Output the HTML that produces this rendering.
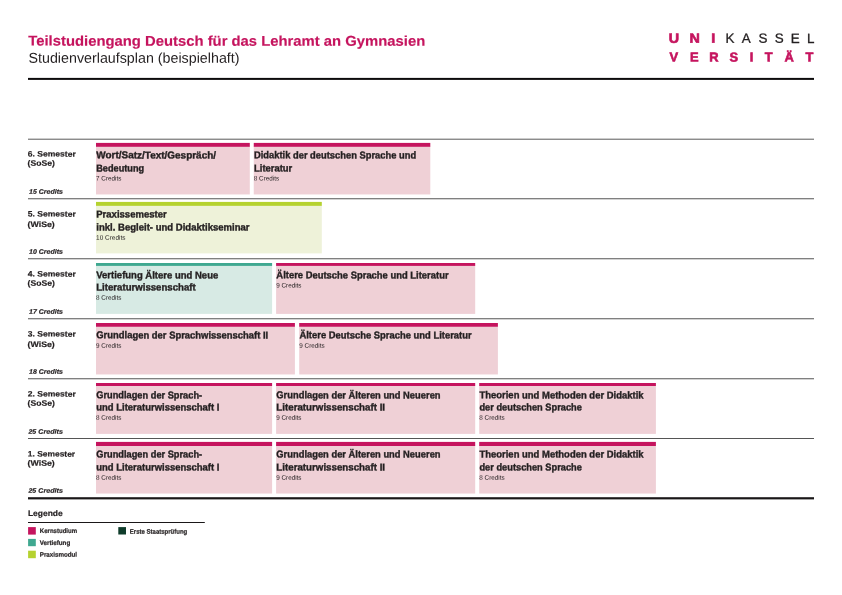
<!DOCTYPE html>
<html lang="de">
<head>
<meta charset="utf-8">
<title>Studienverlaufsplan</title>
<style>
html,body{margin:0;padding:0;background:#fff;}
body{width:842px;height:595px;overflow:hidden;}
svg{display:block;}
text{font-family:"Liberation Sans",sans-serif;text-rendering:geometricPrecision;}
.b{font-weight:bold;}
.bi{font-weight:bold;font-style:italic;}
</style>
</head>
<body>
<svg width="842" height="595" viewBox="0 0 842 595" fill="#231f20">
<text transform="translate(28.30,45.60) skewY(0.04)" font-size="14.2" class="b" fill="#c5145e" stroke="#c5145e" stroke-width="0.15" textLength="396.9" lengthAdjust="spacingAndGlyphs">Teilstudiengang Deutsch für das Lehramt an Gymnasien</text>
<text transform="translate(28.50,62.65) skewY(0.04)" font-size="14.3" textLength="211.0" lengthAdjust="spacingAndGlyphs">Studienverlaufsplan (beispielhaft)</text>
<rect x="28.00" y="77.90" width="786.00" height="2.00" fill="#0d0b0c"/>
<text transform="translate(0,42.33) skewY(0.04) scale(1.07,1)" x="629.95 649.16 666.64" y="0" text-anchor="middle" font-size="13.4" class="b" fill="#c5145e" stroke="#c5145e" stroke-width="0.6">UNI</text>
<text transform="translate(0,42.33) skewY(0.04) scale(1.0,1)" x="729.86 746.25 763.00 779.15 795.25 810.75" y="0" text-anchor="middle" font-size="13.4" fill="#231f20" stroke="#231f20" stroke-width="0.3">KASSEL</text>
<text transform="translate(0,60.98) skewY(0.04) scale(1.0,1)" x="673.90 694.30 713.96 733.90 751.50 768.70 789.20 809.50" y="0" text-anchor="middle" font-size="12.9" class="b" fill="#c5145e" stroke="#c5145e" stroke-width="0.6">VERSITÄT</text>
<rect x="28.00" y="138.60" width="786.00" height="1.30" fill="#808080"/>
<rect x="28.00" y="198.00" width="786.00" height="1.35" fill="#808080"/>
<rect x="28.00" y="258.00" width="786.00" height="1.35" fill="#808080"/>
<rect x="28.00" y="318.00" width="786.00" height="1.35" fill="#808080"/>
<rect x="28.00" y="378.00" width="786.00" height="1.35" fill="#808080"/>
<rect x="28.00" y="438.00" width="786.00" height="1.00" fill="#555"/>
<rect x="28.00" y="497.20" width="786.00" height="2.20" fill="#1a1718"/>
<text transform="translate(27.80,156.60) skewY(0.04)" font-size="7.9" class="b" stroke="#231f20" stroke-width="0.18" textLength="48.0" lengthAdjust="spacingAndGlyphs">6. Semester</text>
<text transform="translate(27.60,165.85) skewY(0.04)" font-size="7.9" class="b" stroke="#231f20" stroke-width="0.18" textLength="27.2" lengthAdjust="spacingAndGlyphs">(SoSe)</text>
<text transform="translate(29.00,193.65) skewY(0.04)" font-size="6.5" class="bi" stroke="#231f20" stroke-width="0.2" textLength="33.9" lengthAdjust="spacingAndGlyphs">15 Credits</text>
<rect x="96.00" y="146.30" width="153.80" height="48.15" fill="#efd0d6"/>
<rect x="96.00" y="142.90" width="153.80" height="3.90" fill="#c5145e"/>
<text transform="translate(96.25,158.35) skewY(0.04)" font-size="10.0" class="b" stroke="#231f20" stroke-width="0.38" textLength="119.8" lengthAdjust="spacingAndGlyphs">Wort/Satz/Text/Gespräch/</text>
<text transform="translate(96.25,171.45) skewY(0.04)" font-size="10.0" class="b" stroke="#231f20" stroke-width="0.38" textLength="47.9" lengthAdjust="spacingAndGlyphs">Bedeutung</text>
<text transform="translate(96.10,180.50) skewY(0.04)" font-size="6.6" textLength="25.3" lengthAdjust="spacingAndGlyphs">7 Credits</text>
<rect x="253.75" y="146.30" width="176.55" height="48.15" fill="#efd0d6"/>
<rect x="253.75" y="142.90" width="176.55" height="3.90" fill="#c5145e"/>
<text transform="translate(254.00,158.35) skewY(0.04)" font-size="10.0" class="b" stroke="#231f20" stroke-width="0.38" textLength="162.1" lengthAdjust="spacingAndGlyphs">Didaktik der deutschen Sprache und</text>
<text transform="translate(254.00,171.45) skewY(0.04)" font-size="10.0" class="b" stroke="#231f20" stroke-width="0.38" textLength="38.3" lengthAdjust="spacingAndGlyphs">Literatur</text>
<text transform="translate(253.85,180.50) skewY(0.04)" font-size="6.6" textLength="25.3" lengthAdjust="spacingAndGlyphs">8 Credits</text>
<text transform="translate(27.80,216.60) skewY(0.04)" font-size="7.9" class="b" stroke="#231f20" stroke-width="0.18" textLength="48.0" lengthAdjust="spacingAndGlyphs">5. Semester</text>
<text transform="translate(27.60,226.95) skewY(0.04)" font-size="7.9" class="b" stroke="#231f20" stroke-width="0.18" textLength="27.2" lengthAdjust="spacingAndGlyphs">(WiSe)</text>
<text transform="translate(29.00,253.65) skewY(0.04)" font-size="6.5" class="bi" stroke="#231f20" stroke-width="0.2" textLength="33.9" lengthAdjust="spacingAndGlyphs">10 Credits</text>
<rect x="96.00" y="205.35" width="225.80" height="48.05" fill="#eef2d9"/>
<rect x="96.00" y="201.90" width="225.80" height="3.95" fill="#b5d22f"/>
<text transform="translate(96.25,217.50) skewY(0.04)" font-size="10.0" class="b" stroke="#231f20" stroke-width="0.38" textLength="70.5" lengthAdjust="spacingAndGlyphs">Praxissemester</text>
<text transform="translate(96.25,230.50) skewY(0.04)" font-size="10.0" class="b" stroke="#231f20" stroke-width="0.38" textLength="153.3" lengthAdjust="spacingAndGlyphs">inkl. Begleit- und Didaktikseminar</text>
<text transform="translate(96.10,239.70) skewY(0.04)" font-size="6.6" textLength="29.3" lengthAdjust="spacingAndGlyphs">10 Credits</text>
<text transform="translate(27.80,276.60) skewY(0.04)" font-size="7.9" class="b" stroke="#231f20" stroke-width="0.18" textLength="48.0" lengthAdjust="spacingAndGlyphs">4. Semester</text>
<text transform="translate(27.60,285.85) skewY(0.04)" font-size="7.9" class="b" stroke="#231f20" stroke-width="0.18" textLength="27.2" lengthAdjust="spacingAndGlyphs">(SoSe)</text>
<text transform="translate(29.00,313.65) skewY(0.04)" font-size="6.5" class="bi" stroke="#231f20" stroke-width="0.2" textLength="33.9" lengthAdjust="spacingAndGlyphs">17 Credits</text>
<rect x="96.00" y="265.40" width="176.10" height="48.50" fill="#d7eae4"/>
<rect x="96.00" y="263.00" width="176.10" height="2.90" fill="#3fa890"/>
<text transform="translate(96.25,278.35) skewY(0.04)" font-size="10.0" class="b" stroke="#231f20" stroke-width="0.38" textLength="122.0" lengthAdjust="spacingAndGlyphs">Vertiefung Ältere und Neue</text>
<text transform="translate(96.25,290.50) skewY(0.04)" font-size="10.0" class="b" stroke="#231f20" stroke-width="0.38" textLength="99.4" lengthAdjust="spacingAndGlyphs">Literaturwissenschaft</text>
<text transform="translate(96.10,299.70) skewY(0.04)" font-size="6.6" textLength="25.3" lengthAdjust="spacingAndGlyphs">8 Credits</text>
<rect x="276.10" y="265.40" width="199.10" height="48.50" fill="#efd0d6"/>
<rect x="276.10" y="263.00" width="199.10" height="2.90" fill="#c5145e"/>
<text transform="translate(276.35,278.35) skewY(0.04)" font-size="10.0" class="b" stroke="#231f20" stroke-width="0.38" textLength="172.2" lengthAdjust="spacingAndGlyphs">Ältere Deutsche Sprache und Literatur</text>
<text transform="translate(276.20,287.60) skewY(0.04)" font-size="6.6" textLength="25.3" lengthAdjust="spacingAndGlyphs">9 Credits</text>
<text transform="translate(27.80,336.60) skewY(0.04)" font-size="7.9" class="b" stroke="#231f20" stroke-width="0.18" textLength="48.0" lengthAdjust="spacingAndGlyphs">3. Semester</text>
<text transform="translate(27.60,346.95) skewY(0.04)" font-size="7.9" class="b" stroke="#231f20" stroke-width="0.18" textLength="27.2" lengthAdjust="spacingAndGlyphs">(WiSe)</text>
<text transform="translate(29.00,373.65) skewY(0.04)" font-size="6.5" class="bi" stroke="#231f20" stroke-width="0.2" textLength="33.9" lengthAdjust="spacingAndGlyphs">18 Credits</text>
<rect x="96.00" y="326.25" width="198.90" height="48.20" fill="#efd0d6"/>
<rect x="96.00" y="323.00" width="198.90" height="3.75" fill="#c5145e"/>
<text transform="translate(96.25,338.35) skewY(0.04)" font-size="10.0" class="b" stroke="#231f20" stroke-width="0.38" textLength="172.0" lengthAdjust="spacingAndGlyphs">Grundlagen der Sprachwissenschaft II</text>
<text transform="translate(96.10,347.80) skewY(0.04)" font-size="6.6" textLength="25.3" lengthAdjust="spacingAndGlyphs">9 Credits</text>
<rect x="299.20" y="326.25" width="198.70" height="48.20" fill="#efd0d6"/>
<rect x="299.20" y="323.00" width="198.70" height="3.75" fill="#c5145e"/>
<text transform="translate(299.45,338.35) skewY(0.04)" font-size="10.0" class="b" stroke="#231f20" stroke-width="0.38" textLength="172.2" lengthAdjust="spacingAndGlyphs">Ältere Deutsche Sprache und Literatur</text>
<text transform="translate(299.30,347.80) skewY(0.04)" font-size="6.6" textLength="25.3" lengthAdjust="spacingAndGlyphs">9 Credits</text>
<text transform="translate(27.80,396.60) skewY(0.04)" font-size="7.9" class="b" stroke="#231f20" stroke-width="0.18" textLength="48.0" lengthAdjust="spacingAndGlyphs">2. Semester</text>
<text transform="translate(27.60,405.85) skewY(0.04)" font-size="7.9" class="b" stroke="#231f20" stroke-width="0.18" textLength="27.2" lengthAdjust="spacingAndGlyphs">(SoSe)</text>
<text transform="translate(28.40,433.65) skewY(0.04)" font-size="6.5" class="bi" stroke="#231f20" stroke-width="0.2" textLength="34.5" lengthAdjust="spacingAndGlyphs">25 Credits</text>
<rect x="96.00" y="385.50" width="176.10" height="48.40" fill="#efd0d6"/>
<rect x="96.00" y="383.00" width="176.10" height="3.00" fill="#c5145e"/>
<text transform="translate(96.25,398.35) skewY(0.04)" font-size="10.0" class="b" stroke="#231f20" stroke-width="0.38" textLength="105.9" lengthAdjust="spacingAndGlyphs">Grundlagen der Sprach-</text>
<text transform="translate(96.25,410.50) skewY(0.04)" font-size="10.0" class="b" stroke="#231f20" stroke-width="0.38" textLength="123.2" lengthAdjust="spacingAndGlyphs">und Literaturwissenschaft I</text>
<text transform="translate(96.10,419.70) skewY(0.04)" font-size="6.6" textLength="25.3" lengthAdjust="spacingAndGlyphs">8 Credits</text>
<rect x="276.10" y="385.50" width="199.10" height="48.40" fill="#efd0d6"/>
<rect x="276.10" y="383.00" width="199.10" height="3.00" fill="#c5145e"/>
<text transform="translate(276.35,398.35) skewY(0.04)" font-size="10.0" class="b" stroke="#231f20" stroke-width="0.38" textLength="164.2" lengthAdjust="spacingAndGlyphs">Grundlagen der Älteren und Neueren</text>
<text transform="translate(276.35,410.50) skewY(0.04)" font-size="10.0" class="b" stroke="#231f20" stroke-width="0.38" textLength="108.7" lengthAdjust="spacingAndGlyphs">Literaturwissenschaft II</text>
<text transform="translate(276.20,419.70) skewY(0.04)" font-size="6.6" textLength="25.3" lengthAdjust="spacingAndGlyphs">9 Credits</text>
<rect x="479.20" y="385.50" width="176.70" height="48.40" fill="#efd0d6"/>
<rect x="479.20" y="383.00" width="176.70" height="3.00" fill="#c5145e"/>
<text transform="translate(479.45,398.35) skewY(0.04)" font-size="10.0" class="b" stroke="#231f20" stroke-width="0.38" textLength="164.1" lengthAdjust="spacingAndGlyphs">Theorien und Methoden der Didaktik</text>
<text transform="translate(479.45,410.50) skewY(0.04)" font-size="10.0" class="b" stroke="#231f20" stroke-width="0.38" textLength="102.4" lengthAdjust="spacingAndGlyphs">der deutschen Sprache</text>
<text transform="translate(479.30,419.70) skewY(0.04)" font-size="6.6" textLength="25.3" lengthAdjust="spacingAndGlyphs">8 Credits</text>
<text transform="translate(27.80,456.60) skewY(0.04)" font-size="7.9" class="b" stroke="#231f20" stroke-width="0.18" textLength="47.3" lengthAdjust="spacingAndGlyphs">1. Semester</text>
<text transform="translate(27.60,465.85) skewY(0.04)" font-size="7.9" class="b" stroke="#231f20" stroke-width="0.18" textLength="27.2" lengthAdjust="spacingAndGlyphs">(WiSe)</text>
<text transform="translate(28.40,492.65) skewY(0.04)" font-size="6.5" class="bi" stroke="#231f20" stroke-width="0.2" textLength="34.5" lengthAdjust="spacingAndGlyphs">25 Credits</text>
<rect x="96.00" y="445.50" width="176.10" height="48.05" fill="#efd0d6"/>
<rect x="96.00" y="441.90" width="176.10" height="4.10" fill="#c5145e"/>
<text transform="translate(96.25,457.50) skewY(0.04)" font-size="10.0" class="b" stroke="#231f20" stroke-width="0.38" textLength="105.9" lengthAdjust="spacingAndGlyphs">Grundlagen der Sprach-</text>
<text transform="translate(96.25,470.50) skewY(0.04)" font-size="10.0" class="b" stroke="#231f20" stroke-width="0.38" textLength="123.2" lengthAdjust="spacingAndGlyphs">und Literaturwissenschaft I</text>
<text transform="translate(96.10,479.70) skewY(0.04)" font-size="6.6" textLength="25.3" lengthAdjust="spacingAndGlyphs">8 Credits</text>
<rect x="276.10" y="445.50" width="199.10" height="48.05" fill="#efd0d6"/>
<rect x="276.10" y="441.90" width="199.10" height="4.10" fill="#c5145e"/>
<text transform="translate(276.35,457.50) skewY(0.04)" font-size="10.0" class="b" stroke="#231f20" stroke-width="0.38" textLength="164.2" lengthAdjust="spacingAndGlyphs">Grundlagen der Älteren und Neueren</text>
<text transform="translate(276.35,470.50) skewY(0.04)" font-size="10.0" class="b" stroke="#231f20" stroke-width="0.38" textLength="108.7" lengthAdjust="spacingAndGlyphs">Literaturwissenschaft II</text>
<text transform="translate(276.20,479.70) skewY(0.04)" font-size="6.6" textLength="25.3" lengthAdjust="spacingAndGlyphs">9 Credits</text>
<rect x="479.20" y="445.50" width="176.70" height="48.05" fill="#efd0d6"/>
<rect x="479.20" y="441.90" width="176.70" height="4.10" fill="#c5145e"/>
<text transform="translate(479.45,457.50) skewY(0.04)" font-size="10.0" class="b" stroke="#231f20" stroke-width="0.38" textLength="164.1" lengthAdjust="spacingAndGlyphs">Theorien und Methoden der Didaktik</text>
<text transform="translate(479.45,470.50) skewY(0.04)" font-size="10.0" class="b" stroke="#231f20" stroke-width="0.38" textLength="102.4" lengthAdjust="spacingAndGlyphs">der deutschen Sprache</text>
<text transform="translate(479.30,479.70) skewY(0.04)" font-size="6.6" textLength="25.3" lengthAdjust="spacingAndGlyphs">8 Credits</text>
<text transform="translate(27.90,516.00) skewY(0.04)" font-size="8.1" class="b" stroke="#231f20" stroke-width="0.2" textLength="34.8" lengthAdjust="spacingAndGlyphs">Legende</text>
<rect x="28.00" y="522.00" width="176.80" height="1.00" fill="#1a1718"/>
<rect x="28.10" y="527.10" width="7.70" height="7.50" fill="#c5145e"/>
<rect x="28.10" y="538.90" width="7.70" height="7.30" fill="#3fa890"/>
<rect x="28.10" y="550.70" width="7.70" height="7.50" fill="#b5d22f"/>
<rect x="118.30" y="527.10" width="7.70" height="7.40" fill="#0f3d2b"/>
<text transform="translate(39.80,532.90) skewY(0.04)" font-size="6.7" class="b" stroke="#231f20" stroke-width="0.2" textLength="37.3" lengthAdjust="spacingAndGlyphs">Kernstudium</text>
<text transform="translate(39.80,544.90) skewY(0.04)" font-size="6.7" class="b" stroke="#231f20" stroke-width="0.2" textLength="30.4" lengthAdjust="spacingAndGlyphs">Vertiefung</text>
<text transform="translate(39.80,556.80) skewY(0.04)" font-size="6.7" class="b" stroke="#231f20" stroke-width="0.2" textLength="37.3" lengthAdjust="spacingAndGlyphs">Praxismodul</text>
<text transform="translate(129.80,533.80) skewY(0.04)" font-size="6.7" class="b" stroke="#231f20" stroke-width="0.2" textLength="57.5" lengthAdjust="spacingAndGlyphs">Erste Staatsprüfung</text>
</svg>
</body>
</html>
